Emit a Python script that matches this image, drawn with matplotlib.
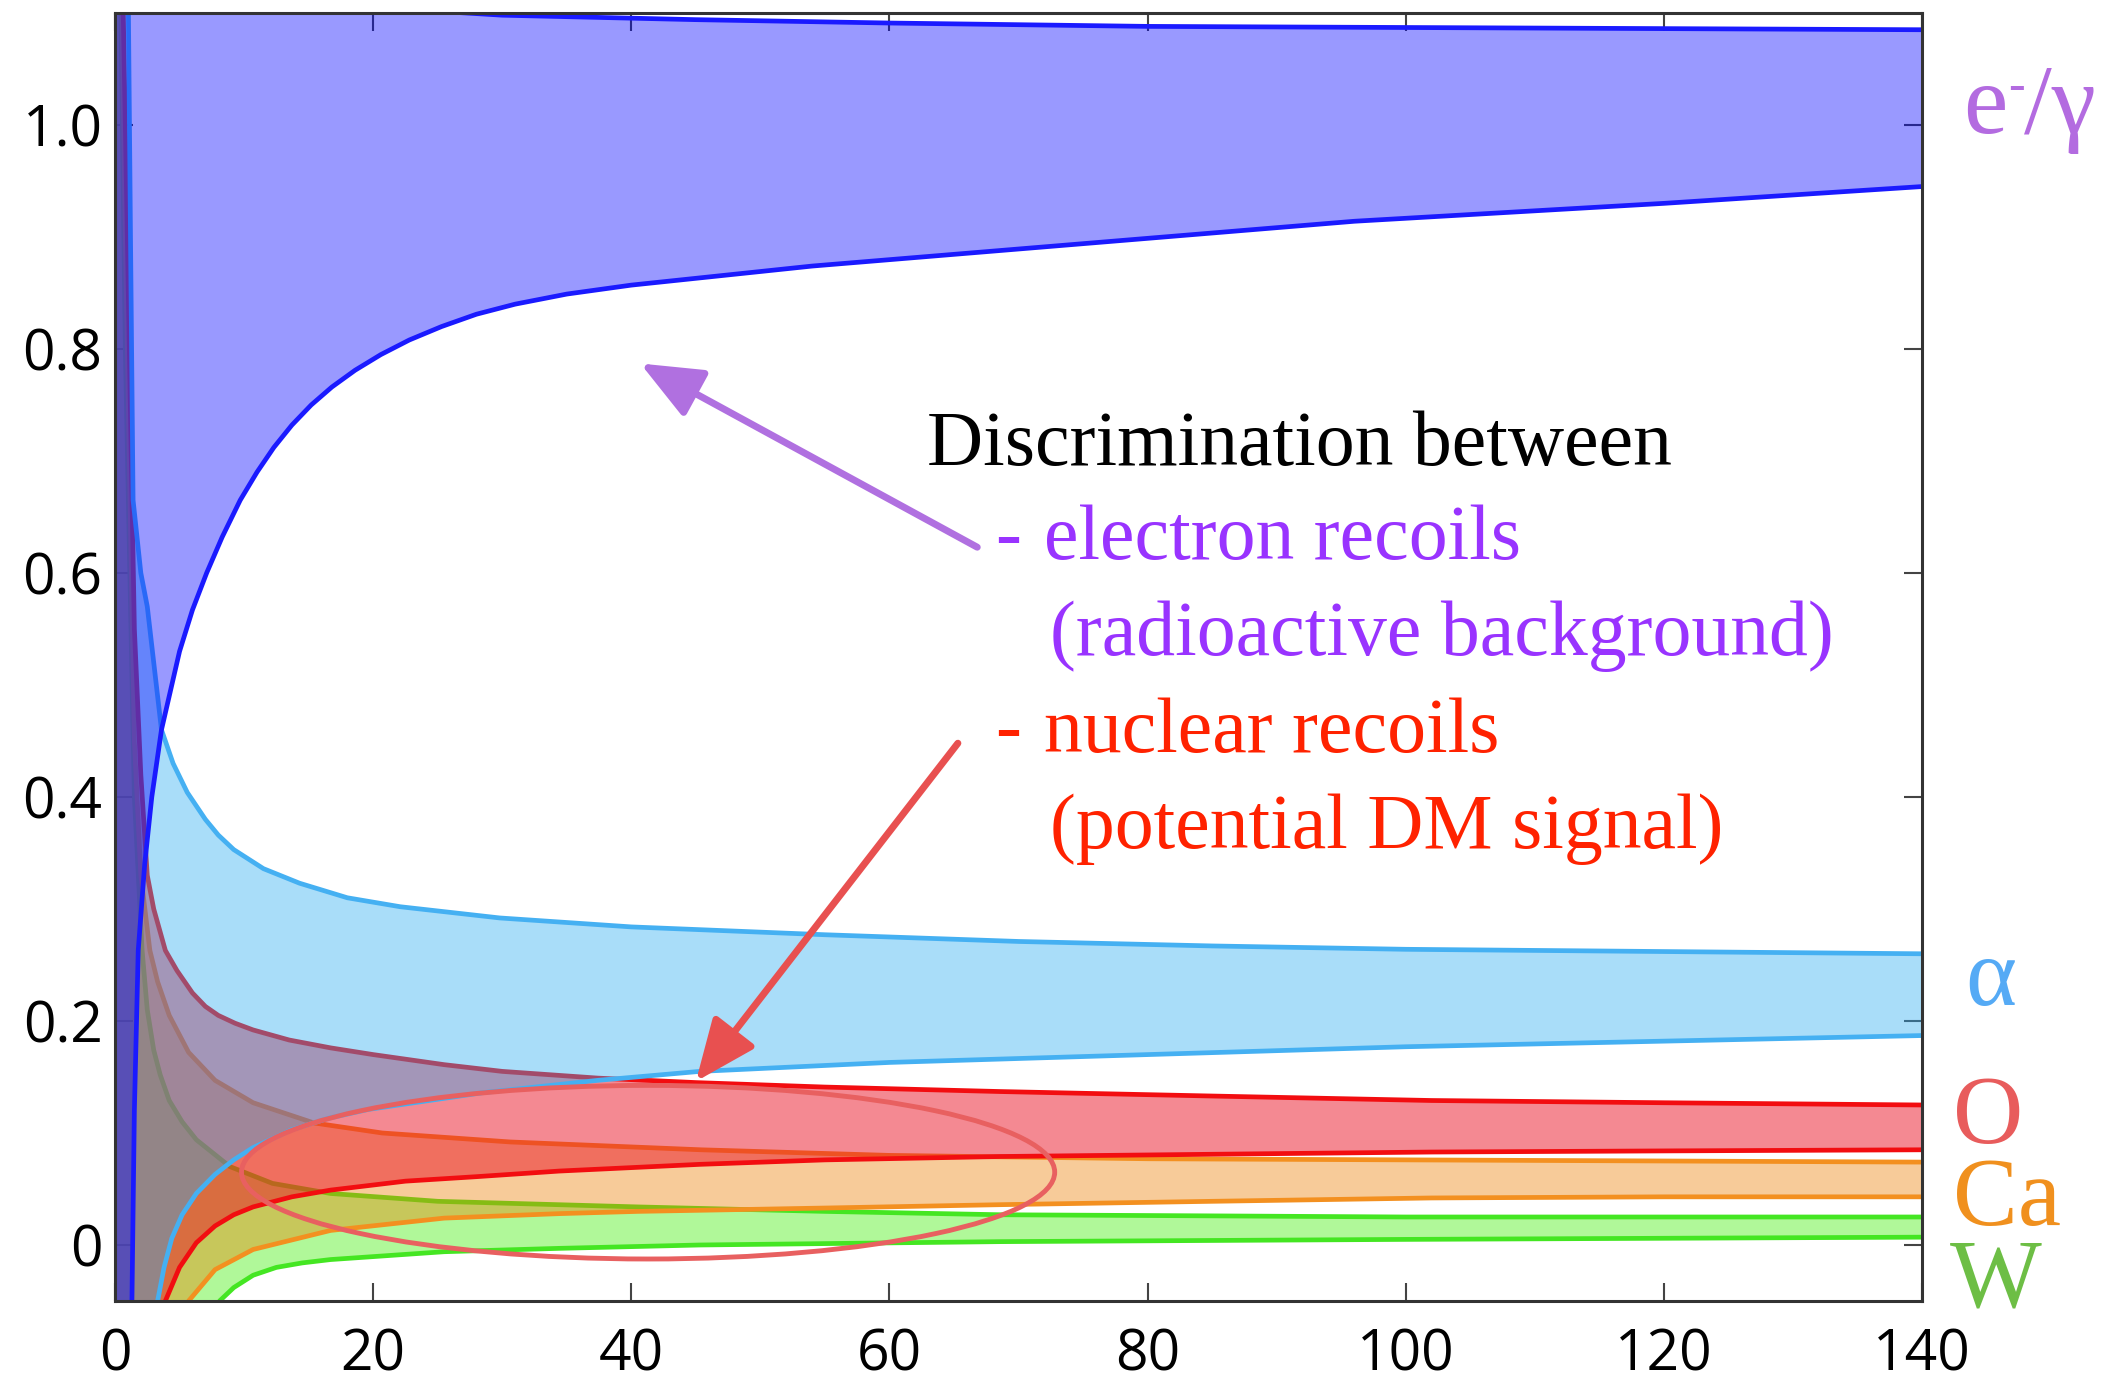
import matplotlib

matplotlib.use("Agg")
import matplotlib.pyplot as plt
import numpy as np
from matplotlib.patches import Ellipse

# band edges (recoil energy vs. light yield)
EG_UP_X = [0, 5, 10, 20, 30, 45, 60, 80, 100, 120, 140]
EG_UP_Y = [1.30, 1.16, 1.12, 1.105, 1.098, 1.094, 1.091, 1.088, 1.087, 1.086, 1.085]
EG_LO_X = [0, 1.3, 1.5, 1.8, 2.3, 2.85, 3.6, 5, 6, 7.1, 8.3, 9.7, 11, 12.3, 13.7, 15.2, 16.8,
           18.6, 20.6, 22.8, 25.3, 28, 31, 35, 40, 54, 75, 96, 120, 140]
EG_LO_Y = [-0.5, -0.06, 0.12, 0.263, 0.34, 0.40, 0.46, 0.53, 0.567, 0.60, 0.632, 0.665, 0.69,
           0.712, 0.732, 0.75, 0.766, 0.781, 0.795, 0.808, 0.82, 0.831, 0.84, 0.849, 0.857,
           0.874, 0.894, 0.914, 0.93, 0.945]

A_UP_X = [0, 1.0, 1.2, 1.4, 2.0, 2.5, 3.0, 3.6, 4.5, 5.6, 7, 8, 9.2, 11.5, 14.3, 18, 22.1, 29.8,
          40, 55, 70, 85, 100, 120, 140]
A_UP_Y = [1.5, 1.15, 0.9, 0.665, 0.6, 0.57, 0.52, 0.46, 0.43, 0.404, 0.38, 0.366, 0.353, 0.336,
          0.323, 0.31, 0.302, 0.292, 0.284, 0.277, 0.271, 0.267, 0.264, 0.262, 0.26]
A_LO_X = [0, 3.3, 3.8, 4.4, 5.2, 6.3, 7.75, 9.2, 10.7, 13.7, 16.5, 19.6, 28.5, 37.4, 45.3, 60,
          80, 100, 120, 140]
A_LO_Y = [-0.5, -0.05, -0.02, 0.006, 0.027, 0.046, 0.063, 0.076, 0.087, 0.103, 0.113, 0.121,
          0.136, 0.147, 0.155, 0.163, 0.17, 0.177, 0.182, 0.187]

O_UP_X = [0, 0.8, 1.5, 2.0, 2.5, 3.0, 3.9, 4.8, 6.0, 7.0, 8.0, 9.3, 10.7, 13.5, 16.7, 20, 25.5,
          30, 37.4, 45, 55, 68.6, 85, 102, 120, 140]
O_UP_Y = [1.5, 1.0, 0.55, 0.42, 0.33, 0.30, 0.263, 0.245, 0.225, 0.213, 0.205, 0.198, 0.192,
          0.183, 0.176, 0.17, 0.161, 0.155, 0.149, 0.145, 0.141, 0.137, 0.133, 0.129, 0.127,
          0.125]
O_LO_X = [0, 3.9, 5.0, 6.3, 7.75, 9.2, 10.7, 13.7, 16.7, 22.5, 28, 34.4, 45.3, 55, 68.6, 85,
          102, 120, 140]
O_LO_Y = [-0.5, -0.05, -0.02, 0.002, 0.017, 0.027, 0.034, 0.043, 0.049, 0.057, 0.061, 0.066,
          0.072, 0.076, 0.079, 0.081, 0.083, 0.084, 0.085]

CA_UP_X = [0, 0.8, 1.5, 2.0, 2.7, 3.3, 4.2, 5.7, 7.75, 10.7, 15.4, 20.7, 30.6, 45.4, 60, 80,
           100, 120, 140]
CA_UP_Y = [1.5, 0.9, 0.45, 0.33, 0.263, 0.235, 0.205, 0.172, 0.147, 0.127, 0.109, 0.1, 0.092,
           0.085, 0.08, 0.077, 0.076, 0.075, 0.074]
CA_LO_X = [0, 5.7, 7.75, 10.7, 16.7, 25.5, 34.4, 40.5, 55, 68.6, 85, 102, 120, 140]
CA_LO_Y = [-0.5, -0.05, -0.022, -0.004, 0.013, 0.024, 0.028, 0.03, 0.033, 0.036, 0.039, 0.042,
           0.043, 0.043]

W_UP_X = [0, 0.8, 1.5, 2.1, 2.5, 3.0, 3.5, 4.2, 5.2, 6.3, 8.9, 12.2, 16.7, 25, 40.5, 55, 68.6,
          85, 100, 120, 140]
W_UP_Y = [1.5, 0.8, 0.4, 0.263, 0.21, 0.174, 0.152, 0.129, 0.11, 0.094, 0.07, 0.055, 0.046,
          0.039, 0.034, 0.03, 0.027, 0.026, 0.025, 0.025, 0.025]
W_LO_X = [0, 8.1, 9.2, 10.7, 12.5, 14.5, 16.7, 25.5, 34.4, 45.3, 68.6, 100, 120, 140]
W_LO_Y = [-0.5, -0.05, -0.038, -0.027, -0.02, -0.016, -0.013, -0.006, -0.003, 0.0, 0.003,
          0.005, 0.006, 0.007]

X_TICKS = [0, 20, 40, 60, 80, 100, 120, 140]
Y_TICKS = [0, 0.2, 0.4, 0.6, 0.8, 1.0]
Y_TICK_LABELS = ["0", "0.2", "0.4", "0.6", "0.8", "1.0"]

SERIF = ["Liberation Serif", "DejaVu Serif"]


def draw_band(ax, up, lo, fill, alpha, line, z):
    xu, yu = np.asarray(up[0]), np.asarray(up[1])
    xl, yl = np.asarray(lo[0]), np.asarray(lo[1])
    ax.fill(np.concatenate([xu, xl[::-1]]), np.concatenate([yu, yl[::-1]]),
            color=fill, alpha=alpha, lw=0, zorder=z)
    ax.plot(xu, yu, color=line, lw=3.4, zorder=z + 0.5, solid_joinstyle="round")
    ax.plot(xl, yl, color=line, lw=3.4, zorder=z + 0.5, solid_joinstyle="round")


def main() -> None:
    fig = plt.figure(figsize=(21.27, 13.81), dpi=100)
    ax = fig.add_axes([0.05407, 0.05793, 0.8496, 0.9327])

    # drawn bottom-up so the later translucent fills tint the earlier ones
    draw_band(ax, (W_UP_X, W_UP_Y), (W_LO_X, W_LO_Y), "#3aee00", 0.4, "#44e622", 2)
    draw_band(ax, (CA_UP_X, CA_UP_Y), (CA_LO_X, CA_LO_Y), "#eb7f00", 0.4, "#f39020", 3)
    draw_band(ax, (O_UP_X, O_UP_Y), (O_LO_X, O_LO_Y), "#eb1527", 0.5, "#f20d10", 4)
    draw_band(ax, (A_UP_X, A_UP_Y), (A_LO_X, A_LO_Y), "#2aaaf2", 0.4, "#45b0f2", 5)
    draw_band(ax, (EG_UP_X, EG_UP_Y), (EG_LO_X, EG_LO_Y), "#0000ff", 0.4, "#1a1aff", 6)

    ax.add_patch(Ellipse((41.3, 0.065), 63.0, 0.155, fill=False, edgecolor="#e86060",
                         lw=3.5, zorder=8))

    ax.annotate("", xy=(40.7, 0.787), xytext=(66.8, 0.623),
                arrowprops=dict(arrowstyle="-|>,head_length=0.9,head_width=0.38",
                                color="#b070e0", lw=5, mutation_scale=42,
                                shrinkA=0, shrinkB=0), zorder=9)
    ax.annotate("", xy=(45.0, 0.146), xytext=(65.3, 0.448),
                arrowprops=dict(arrowstyle="-|>,head_length=0.9,head_width=0.38",
                                color="#e85050", lw=5, mutation_scale=42,
                                shrinkA=0, shrinkB=0), zorder=9)

    ax.set_xlim(0, 140)
    ax.set_ylim(-0.05, 1.1)
    ax.set_xticks(X_TICKS)
    ax.set_yticks(Y_TICKS)
    ax.set_yticklabels(Y_TICK_LABELS)
    ax.tick_params(direction="in", length=13, width=1.5, color="#444444",
                   top=True, right=True, labelsize=41)
    ax.tick_params(axis="x", pad=19)
    ax.tick_params(axis="y", pad=9)
    for lab in ax.get_xticklabels() + ax.get_yticklabels():
        lab.set_fontfamily("Open Sans")
    for sp in ax.spines.values():
        sp.set_linewidth(2.2)
        sp.set_color("#333333")
        sp.set_zorder(10)

    # explanatory text
    fig.text(0.4358, 0.6633, "Discrimination between", fontsize=56, family=SERIF,
             color="black")
    fig.text(0.4678, 0.5952, "-", fontsize=56, family=SERIF, color="#9933ff")
    fig.text(0.4906, 0.5952, "electron recoils", fontsize=56, family=SERIF, color="#9933ff")
    fig.text(0.4937, 0.5257, "(radioactive background)", fontsize=56, family=SERIF,
             color="#9933ff")
    fig.text(0.4678, 0.4555, "-", fontsize=56, family=SERIF, color="#ff2200")
    fig.text(0.4906, 0.4555, "nuclear recoils", fontsize=56, family=SERIF, color="#ff2200")
    fig.text(0.4937, 0.3860, "(potential DM signal)", fontsize=56, family=SERIF,
             color="#ff2200")

    # band labels on the right
    fig.text(0.9229, 0.9037, "e", fontsize=72, family=SERIF, color="#b36be0")
    fig.text(0.9440, 0.9276, "-", fontsize=36, family=SERIF, color="#b36be0")
    fig.text(0.9515, 0.9037, "/γ", fontsize=72, family=SERIF, color="#b36be0")
    fig.text(0.9238, 0.2723, "α", fontsize=70, family=SERIF, color="#55aaf5")
    fig.text(0.9182, 0.1720, "O", fontsize=70, family=SERIF, color="#e85c5c")
    fig.text(0.9182, 0.1130, "Ca", fontsize=70, family=SERIF, color="#f0901e")
    fig.text(0.9168, 0.0540, "W", fontsize=70, family=SERIF, color="#6dbe45")

    fig.savefig("out.png", dpi=100)
    plt.close(fig)


if __name__ == "__main__":
    main()
